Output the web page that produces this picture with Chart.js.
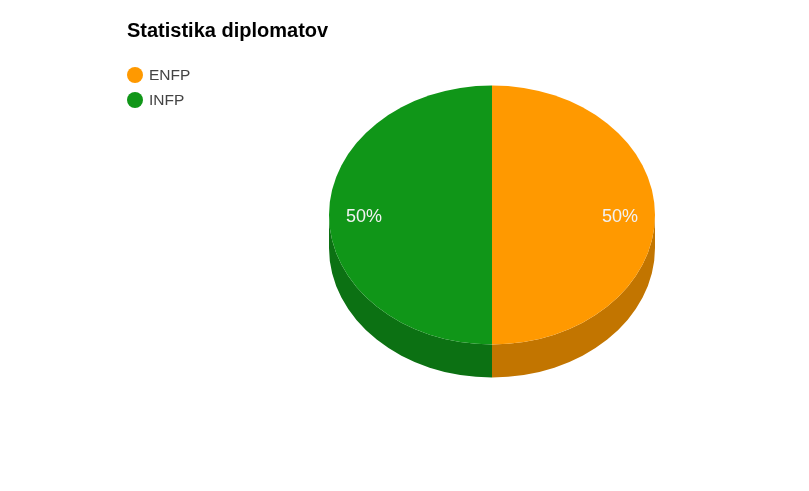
<!DOCTYPE html>
<html>
<head>
<meta charset="utf-8">
<script src="https://cdn.jsdelivr.net/npm/chart.js@4/dist/chart.umd.min.js"></script>
<style>
  html, body { margin: 0; padding: 0; background: #fff; }
  #wrap { position: relative; width: 809px; height: 491px; }
  #pie { position: absolute; left: 0; top: 0; }
  #title {
    position: absolute; left: 127px; top: 20px;
    font: bold 20px "Liberation Sans", Arial, sans-serif; line-height: 20px;
    color: #000; white-space: nowrap;
  }
  .key {
    position: absolute; left: 127px; height: 16px;
    font: 15.5px "Liberation Sans", Arial, sans-serif; line-height: 16px;
    color: #444; white-space: nowrap;
  }
  .key i {
    position: absolute; left: 0; top: 0; width: 16px; height: 16px; border-radius: 50%;
  }
  .key span { position: absolute; left: 22px; top: 0; }
</style>
</head>
<body>
<div id="wrap">
  <canvas id="pie" width="809" height="491"></canvas>
  <div id="title">Statistika diplomatov</div>
  <div id="legend"></div>
</div>
<script>
// Diplomat types and their counts
const categories = ['ENFP', 'INFP'];
const counts = [1, 1];
const topColors = ['#ff9900', '#109618'];
const sideColors = ['#c27500', '#0c7113'];

// Legend rows
const legendBox = document.getElementById('legend');
categories.forEach((name, i) => {
  const row = document.createElement('div');
  row.className = 'key';
  row.style.top = (67 + i * 25) + 'px';
  row.innerHTML = '<i style="background:' + topColors[i] + '"></i><span>' + name + '</span>';
  legendBox.appendChild(row);
});

// Tilt of the pie (vertical squash) and thickness of its rim in pixels
const TILT = 129.5 / 163;
const DEPTH = 33;

function visibleRange(a0, a1) {
  // part of a slice's arc lying on the front (lower) half of the ellipse
  const out = [];
  for (let k = -1; k <= 1; k++) {
    const s = Math.max(a0 + k * 2 * Math.PI, 0);
    const e = Math.min(a1 + k * 2 * Math.PI, Math.PI);
    if (e > s) out.push([s, e]);
  }
  return out;
}

const pie3d = {
  id: 'pie3d',
  beforeDatasetsDraw(chart) {
    const ctx = chart.ctx;
    const arcs = chart.getDatasetMeta(0).data;
    // rim of each slice
    arcs.forEach((arc, i) => {
      const p = arc.getProps(['x', 'y', 'startAngle', 'endAngle', 'outerRadius'], true);
      const rx = p.outerRadius, ry = p.outerRadius * TILT;
      visibleRange(p.startAngle, p.endAngle).forEach(([a, b]) => {
        ctx.save();
        ctx.beginPath();
        ctx.ellipse(p.x, p.y, rx, ry, 0, a, b);
        ctx.ellipse(p.x, p.y + DEPTH, rx, ry, 0, b, a, true);
        ctx.closePath();
        ctx.fillStyle = sideColors[i];
        ctx.fill();
        ctx.restore();
      });
    });
    // squash the top face into an ellipse
    const c = arcs[0];
    ctx.save();
    ctx.translate(0, c.y);
    ctx.scale(1, TILT);
    ctx.translate(0, -c.y);
  },
  afterDatasetsDraw(chart) {
    const ctx = chart.ctx;
    ctx.restore();
    const arcs = chart.getDatasetMeta(0).data;
    const total = counts.reduce((a, b) => a + b, 0);
    ctx.save();
    ctx.font = '18px "Liberation Sans", Arial, sans-serif';
    ctx.fillStyle = '#f2f2f2';
    ctx.textAlign = 'center';
    ctx.textBaseline = 'middle';
    arcs.forEach((arc, i) => {
      const p = arc.getProps(['x', 'y', 'startAngle', 'endAngle', 'outerRadius'], true);
      const mid = (p.startAngle + p.endAngle) / 2;
      const r = p.outerRadius * 0.785;
      const tx = p.x + Math.cos(mid) * r;
      const ty = p.y + Math.sin(mid) * r * TILT + 2;
      ctx.fillText(Math.round(counts[i] / total * 100) + '%', tx, ty);
    });
    ctx.restore();
  }
};

new Chart(document.getElementById('pie'), {
  type: 'pie',
  data: {
    labels: categories,
    datasets: [{
      data: counts,
      backgroundColor: topColors,
      borderWidth: 0,
      hoverOffset: 0
    }]
  },
  options: {
    responsive: false,
    animation: false,
    events: [],
    layout: { padding: { left: 329, right: 154, top: 52, bottom: 113 } },
    plugins: {
      legend: { display: false },
      title: { display: false },
      tooltip: { enabled: false }
    }
  },
  plugins: [pie3d]
});
</script>
</body>
</html>
